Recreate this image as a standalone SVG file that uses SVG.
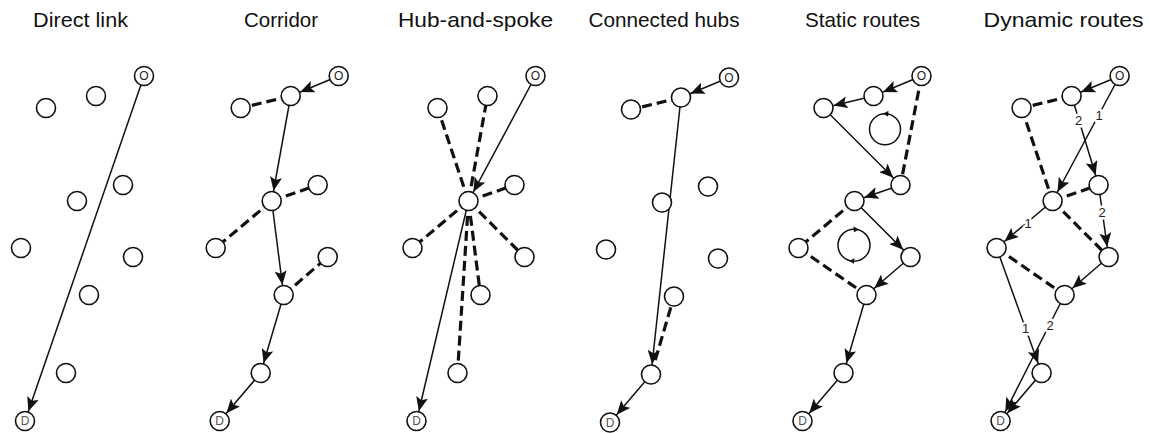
<svg xmlns="http://www.w3.org/2000/svg" width="1149" height="433" viewBox="0 0 1149 433">
<style>
.a{stroke:#111;stroke-width:1.5;fill:none;marker-end:url(#ah)}
.d{stroke:#111;stroke-width:3.2;stroke-dasharray:10 5;fill:none}
.n{fill:#fff;stroke:#111;stroke-width:1.6}
.lp{fill:none;stroke:#111;stroke-width:1.5}
.t{font-family:"Liberation Sans",Arial,sans-serif;font-size:21px;fill:#111}
.l{font-family:"Liberation Sans",Arial,sans-serif;font-size:13px;fill:#222;text-anchor:middle;stroke:#fff;stroke-width:5;paint-order:stroke;stroke-linejoin:round}
.o{font-family:"Liberation Sans",Arial,sans-serif;font-size:12px;fill:#222;text-anchor:middle}
.dd{font-family:"Liberation Sans",Arial,sans-serif;font-size:12px;fill:#555;text-anchor:middle}
</style>
<defs>
<marker id="ah" markerUnits="userSpaceOnUse" viewBox="0 0 26 12" markerWidth="26" markerHeight="12" refX="24.3" refY="6" orient="auto">
<path d="M0,0 L14,6 L0,12 L3,6 z" fill="#111"/>
</marker>
</defs>
<rect width="1149" height="433" fill="#fff"/>

<g id="titles">
<text class="t" x="33" y="27" textLength="95" lengthAdjust="spacingAndGlyphs">Direct link</text>
<text class="t" x="244" y="27" textLength="74" lengthAdjust="spacingAndGlyphs">Corridor</text>
<text class="t" x="398" y="27" textLength="155" lengthAdjust="spacingAndGlyphs">Hub-and-spoke</text>
<text class="t" x="588.5" y="27" textLength="151" lengthAdjust="spacingAndGlyphs">Connected hubs</text>
<text class="t" x="805" y="27" textLength="115" lengthAdjust="spacingAndGlyphs">Static routes</text>
<text class="t" x="983.5" y="27" textLength="160" lengthAdjust="spacingAndGlyphs">Dynamic routes</text>
</g>

<!-- Panel 1: Direct link -->
<g id="panel-direct" transform="translate(0,0)">
<g id="p1-connectors">
<line class="a" x1="144" y1="76" x2="25" y2="421"/>
</g>
<g id="p1-N1"><circle class="n" cx="46" cy="108" r="9.5"/></g>
<g id="p1-N2"><circle class="n" cx="96" cy="96" r="9.5"/></g>
<g id="p1-N3"><circle class="n" cx="123" cy="185" r="9.5"/></g>
<g id="p1-N4"><circle class="n" cx="77" cy="201" r="9.5"/></g>
<g id="p1-N5"><circle class="n" cx="21" cy="248" r="9.5"/></g>
<g id="p1-N6"><circle class="n" cx="133" cy="257" r="9.5"/></g>
<g id="p1-N7"><circle class="n" cx="89" cy="295" r="9.5"/></g>
<g id="p1-N8"><circle class="n" cx="66" cy="373" r="9.5"/></g>
<g id="p1-O"><circle class="n" cx="144" cy="76" r="9.5"/><text class="o" x="144" y="80.3">O</text></g>
<g id="p1-D"><circle class="n" cx="25" cy="421" r="9.5"/><text class="dd" x="25" y="425.3">D</text></g>
</g>

<!-- Panel 2: Corridor -->
<g id="panel-corridor" transform="translate(194.7,0)">
<g id="p2-connectors">
<line class="d" x1="96" y1="96" x2="46" y2="108"/>
<line class="d" x1="77" y1="201" x2="123" y2="185"/>
<line class="d" x1="77" y1="201" x2="21" y2="248"/>
<line class="d" x1="89" y1="295" x2="133" y2="257"/>
<line class="a" x1="144" y1="76" x2="96" y2="96"/>
<line class="a" x1="96" y1="96" x2="77" y2="201"/>
<line class="a" x1="77" y1="201" x2="89" y2="295"/>
<line class="a" x1="89" y1="295" x2="66" y2="373"/>
<line class="a" x1="66" y1="373" x2="25" y2="421"/>
</g>
<g id="p2-N1"><circle class="n" cx="46" cy="108" r="9.5"/></g>
<g id="p2-N2"><circle class="n" cx="96" cy="96" r="9.5"/></g>
<g id="p2-N3"><circle class="n" cx="123" cy="185" r="9.5"/></g>
<g id="p2-N4"><circle class="n" cx="77" cy="201" r="9.5"/></g>
<g id="p2-N5"><circle class="n" cx="21" cy="248" r="9.5"/></g>
<g id="p2-N6"><circle class="n" cx="133" cy="257" r="9.5"/></g>
<g id="p2-N7"><circle class="n" cx="89" cy="295" r="9.5"/></g>
<g id="p2-N8"><circle class="n" cx="66" cy="373" r="9.5"/></g>
<g id="p2-O"><circle class="n" cx="144" cy="76" r="9.5"/><text class="o" x="144" y="80.3">O</text></g>
<g id="p2-D"><circle class="n" cx="25" cy="421" r="9.5"/><text class="dd" x="25" y="425.3">D</text></g>
</g>

<!-- Panel 3: Hub-and-spoke -->
<g id="panel-hub" transform="translate(391.5,0)">
<g id="p3-connectors">
<line class="d" x1="77" y1="201" x2="46" y2="108"/>
<line class="d" x1="77" y1="201" x2="96" y2="96"/>
<line class="d" x1="77" y1="201" x2="123" y2="185"/>
<line class="d" x1="77" y1="201" x2="21" y2="248"/>
<line class="d" x1="77" y1="201" x2="133" y2="257"/>
<line class="d" x1="77" y1="201" x2="89" y2="295"/>
<line class="d" x1="77" y1="201" x2="66" y2="373"/>
<line class="a" x1="144" y1="76" x2="77" y2="201"/>
<line class="a" x1="77" y1="201" x2="25" y2="421"/>
</g>
<g id="p3-N1"><circle class="n" cx="46" cy="108" r="9.5"/></g>
<g id="p3-N2"><circle class="n" cx="96" cy="96" r="9.5"/></g>
<g id="p3-N3"><circle class="n" cx="123" cy="185" r="9.5"/></g>
<g id="p3-N4"><circle class="n" cx="77" cy="201" r="9.5"/></g>
<g id="p3-N5"><circle class="n" cx="21" cy="248" r="9.5"/></g>
<g id="p3-N6"><circle class="n" cx="133" cy="257" r="9.5"/></g>
<g id="p3-N7"><circle class="n" cx="89" cy="295" r="9.5"/></g>
<g id="p3-N8"><circle class="n" cx="66" cy="373" r="9.5"/></g>
<g id="p3-O"><circle class="n" cx="144" cy="76" r="9.5"/><text class="o" x="144" y="80.3">O</text></g>
<g id="p3-D"><circle class="n" cx="25" cy="421" r="9.5"/><text class="dd" x="25" y="425.3">D</text></g>
</g>

<!-- Panel 4: Connected hubs -->
<g id="panel-connected" transform="translate(585,1.5)">
<g id="p4-connectors">
<line class="d" x1="96" y1="96" x2="46" y2="108"/>
<line class="d" x1="66" y1="373" x2="89" y2="295"/>
<line class="a" x1="144" y1="76" x2="96" y2="96"/>
<line class="a" x1="96" y1="96" x2="66" y2="373"/>
<line class="a" x1="66" y1="373" x2="25" y2="421"/>
</g>
<g id="p4-N1"><circle class="n" cx="46" cy="108" r="9.5"/></g>
<g id="p4-N2"><circle class="n" cx="96" cy="96" r="9.5"/></g>
<g id="p4-N3"><circle class="n" cx="123" cy="185" r="9.5"/></g>
<g id="p4-N4"><circle class="n" cx="77" cy="201" r="9.5"/></g>
<g id="p4-N5"><circle class="n" cx="21" cy="248" r="9.5"/></g>
<g id="p4-N6"><circle class="n" cx="133" cy="257" r="9.5"/></g>
<g id="p4-N7"><circle class="n" cx="89" cy="295" r="9.5"/></g>
<g id="p4-N8"><circle class="n" cx="66" cy="373" r="9.5"/></g>
<g id="p4-O"><circle class="n" cx="144" cy="76" r="9.5"/><text class="o" x="144" y="80.3">O</text></g>
<g id="p4-D"><circle class="n" cx="25" cy="421" r="9.5"/><text class="dd" x="25" y="425.3">D</text></g>
</g>

<!-- Panel 5: Static routes -->
<g id="panel-static" transform="translate(777.5,0)">
<g id="p5-connectors">
<line class="d" x1="144" y1="76" x2="123" y2="185"/>
<line class="d" x1="77" y1="201" x2="21" y2="248"/>
<line class="d" x1="21" y1="248" x2="89" y2="295"/>
<line class="a" x1="144" y1="76" x2="96" y2="96"/>
<line class="a" x1="96" y1="96" x2="46" y2="108"/>
<line class="a" x1="46" y1="108" x2="123" y2="185"/>
<line class="a" x1="123" y1="185" x2="77" y2="201"/>
<line class="a" x1="77" y1="201" x2="133" y2="257"/>
<line class="a" x1="133" y1="257" x2="89" y2="295"/>
<line class="a" x1="89" y1="295" x2="66" y2="373"/>
<line class="a" x1="66" y1="373" x2="25" y2="421"/>
</g>
<g id="p5-loop1">
<circle class="lp" cx="107.5" cy="129.3" r="15.5"/>
<path d="M105.5,113.8 L111,110.8 L110.5,116.5 z" fill="#111"/>
</g>
<g id="p5-loop2">
<circle class="lp" cx="76.5" cy="245.2" r="16"/>
<path d="M81.5,229.4 L76,226.6 L76.5,232.2 z" fill="#111"/>
<path d="M71.5,261 L77,258.2 L76.5,263.8 z" fill="#111"/>
</g>
<g id="p5-N1"><circle class="n" cx="46" cy="108" r="9.5"/></g>
<g id="p5-N2"><circle class="n" cx="96" cy="96" r="9.5"/></g>
<g id="p5-N3"><circle class="n" cx="123" cy="185" r="9.5"/></g>
<g id="p5-N4"><circle class="n" cx="77" cy="201" r="9.5"/></g>
<g id="p5-N5"><circle class="n" cx="21" cy="248" r="9.5"/></g>
<g id="p5-N6"><circle class="n" cx="133" cy="257" r="9.5"/></g>
<g id="p5-N7"><circle class="n" cx="89" cy="295" r="9.5"/></g>
<g id="p5-N8"><circle class="n" cx="66" cy="373" r="9.5"/></g>
<g id="p5-O"><circle class="n" cx="144" cy="76" r="9.5"/><text class="o" x="144" y="80.3">O</text></g>
<g id="p5-D"><circle class="n" cx="25" cy="421" r="9.5"/><text class="dd" x="25" y="425.3">D</text></g>
</g>

<!-- Panel 6: Dynamic routes -->
<g id="panel-dynamic" transform="translate(975.6,0)">
<g id="p6-connectors">
<line class="d" x1="96" y1="96" x2="46" y2="108"/>
<line class="d" x1="46" y1="108" x2="77" y2="201"/>
<line class="d" x1="77" y1="201" x2="123" y2="185"/>
<line class="d" x1="77" y1="201" x2="133" y2="257"/>
<line class="d" x1="21" y1="248" x2="89" y2="295"/>
<line class="a" x1="144" y1="76" x2="96" y2="96"/>
<line class="a" x1="144" y1="76" x2="77" y2="201"/>
<line class="a" x1="96" y1="96" x2="123" y2="185"/>
<line class="a" x1="123" y1="185" x2="133" y2="257"/>
<line class="a" x1="77" y1="201" x2="21" y2="248"/>
<line class="a" x1="133" y1="257" x2="89" y2="295"/>
<line class="a" x1="21" y1="248" x2="66" y2="373"/>
<line class="a" x1="89" y1="295" x2="25" y2="421"/>
<line class="a" x1="66" y1="373" x2="25" y2="421"/>
<text class="l" x="123.5" y="119.5">1</text>
<text class="l" x="103" y="125">2</text>
<text class="l" x="126.5" y="216.5">2</text>
<text class="l" x="52.5" y="227.5">1</text>
<text class="l" x="50" y="332.5">1</text>
<text class="l" x="74.5" y="329.5">2</text>
</g>
<g id="p6-N1"><circle class="n" cx="46" cy="108" r="9.5"/></g>
<g id="p6-N2"><circle class="n" cx="96" cy="96" r="9.5"/></g>
<g id="p6-N3"><circle class="n" cx="123" cy="185" r="9.5"/></g>
<g id="p6-N4"><circle class="n" cx="77" cy="201" r="9.5"/></g>
<g id="p6-N5"><circle class="n" cx="21" cy="248" r="9.5"/></g>
<g id="p6-N6"><circle class="n" cx="133" cy="257" r="9.5"/></g>
<g id="p6-N7"><circle class="n" cx="89" cy="295" r="9.5"/></g>
<g id="p6-N8"><circle class="n" cx="66" cy="373" r="9.5"/></g>
<g id="p6-O"><circle class="n" cx="144" cy="76" r="9.5"/><text class="o" x="144" y="80.3">O</text></g>
<g id="p6-D"><circle class="n" cx="25" cy="421" r="9.5"/><text class="dd" x="25" y="425.3">D</text></g>
</g>
</svg>
